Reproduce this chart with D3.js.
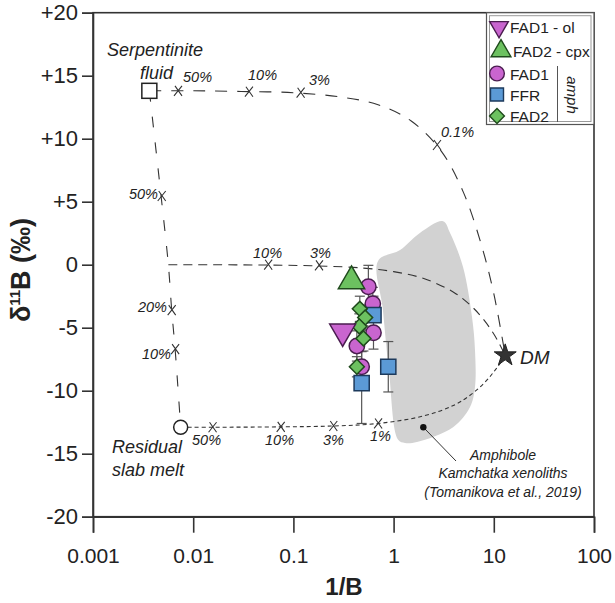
<!DOCTYPE html>
<html><head><meta charset="utf-8">
<script src="https://cdn.jsdelivr.net/npm/d3@7"></script>
<style>
body{margin:0;background:#fff;}
svg{display:block;font-family:Arial,"Liberation Sans",sans-serif;}
</style></head>
<body>
<svg id="chart" width="615" height="603"></svg>
<script>
// ---------- DATA ----------
const xTicks = [0.001, 0.01, 0.1, 1, 10, 100];
const xTickLabels = ["0.001", "0.01", "0.1", "1", "10", "100"];
const yTicks = [20, 15, 10, 5, 0, -5, -10, -15, -20];
const yTickLabels = ["+20", "+15", "+10", "+5", "0", "-5", "-10", "-15", "-20"];

// FAD1 amph (circles)
const fad1X = [0.56, 0.62, 0.63, 0.43, 0.48];
const fad1Y = [-1.75, -3.1, -5.4, -6.45, -8.1];
const fad1Err = [1.7, 1.3, 1.3, 1.2, 1.2];
// FFR amph (squares)
const ffrX = [0.63, 0.885, 0.48];
const ffrY = [-4.0, -8.1, -9.4];
const ffrErr = [1.5, 2.0, 3.2];
// FAD2 amph (diamonds)
const fad2X = [0.46, 0.52, 0.455, 0.50, 0.43];
const fad2Y = [-3.5, -4.2, -4.9, -5.85, -8.1];
const fad2Err = [1.0, 1.0, 1.0, 1.0, 0.8];
// FAD1 - ol (down triangle)
const fad1olX = [0.31];
const fad1olY = [-5.3];
// FAD2 - cpx (up triangle)
const fad2cpxX = [0.38];
const fad2cpxY = [-1.3];

// End members
const fluidPt = [0.00365, 13.8];
const meltPt = [0.0075, -12.9];
const dmPt = [13, -7.2];

// Mixing curves
const mixFluidDMX = [0.00365, 0.01, 0.03, 0.1, 0.3, 0.7, 1.5, 3, 5, 7.5, 10, 13];
const mixFluidDMY = [13.8, 13.8, 13.75, 13.65, 13.3, 12.7, 11.4, 9.0, 5.7, 1.6, -2.3, -7.2];
const mixFluidMeltX = [0.00365, 0.00478, 0.00565, 0.0061, 0.0066, 0.0075];
const mixFluidMeltY = [13.8, 5.45, 0, -3.6, -6.7, -12.9];
const mixMidDMX = [0.00565, 0.01, 0.056, 0.18, 0.5, 1, 2, 4, 6, 8, 10, 11.5, 13];
const mixMidDMY = [0, 0, -0.03, -0.1, -0.27, -0.55, -1.1, -2.2, -3.3, -4.4, -5.5, -6.35, -7.2];
const mixMeltDMX = [0.0075, 0.0156, 0.0747, 0.25, 0.7, 2, 4, 6, 8, 10, 11.5, 13];
const mixMeltDMY = [-12.9, -12.9, -12.87, -12.8, -12.6, -12.0, -11.15, -10.27, -9.4, -8.5, -7.85, -7.2];

// Tick marks (x) on mixing curves
const markX = [0.00705, 0.036, 0.118, 2.71, 0.00485, 0.0061, 0.0066, 0.056, 0.18, 0.0156, 0.0747, 0.25, 0.70];
const markY = [13.8, 13.73, 13.65, 9.5, 5.45, -3.6, -6.7, 0, -0.05, -12.9, -12.87, -12.8, -12.6];

// Amphibole Kamchatka xenoliths field
const fieldX = [0.70, 1.16, 1.83, 3.11, 3.66, 4.93, 6.06, 6.49, 6.49, 5.79, 3.92, 1.71, 1.30, 1.11, 0.90, 0.78];
const fieldY = [0.3, 1.17, 2.52, 3.45, 2.52, -0.18, -4.15, -6.77, -9.71, -11.3, -12.9, -14.07, -14.15, -13.9, -8.5, -3.5];
const fieldDot = [1.98, -12.9];

// ---------- DRAW ----------
const svg = d3.select("#chart");
const L = 93, R = 594, T = 12.7, B = 516.7;
const x = d3.scaleLog().domain([0.001, 100]).range([L, R]);
const y = d3.scaleLinear().domain([-20, 20]).range([B, T]);

const purple = "#c965cf", purpleS = "#4a1d4f";
const green = "#6cc160", greenS = "#1f4a1c";
const blue = "#5b9ad6", blueS = "#1d3a5c";

// field
svg.append("path")
  .datum(d3.zip(fieldX, fieldY))
  .attr("d", d3.line().x(d => x(d[0])).y(d => y(d[1])).curve(d3.curveCatmullRomClosed.alpha(0.5)))
  .attr("fill", "#d2d2d2").attr("stroke", "none");

// frame
svg.append("rect").attr("x", L).attr("y", T).attr("width", R - L).attr("height", B - T)
  .attr("fill", "none").attr("stroke", "#333").attr("stroke-width", 1.6);

// axes
const yAxis = d3.axisLeft(y).tickValues(yTicks).tickSize(11).tickPadding(4)
  .tickFormat((d, i) => yTickLabels[i]);
const gy = svg.append("g").attr("transform", `translate(${L},0)`).call(yAxis);
gy.select(".domain").attr("stroke", "#333").attr("stroke-width", 1.6);
gy.selectAll(".tick line").attr("stroke", "#333").attr("stroke-width", 1.6);
gy.selectAll(".tick text").attr("font-size", 22).attr("fill", "#222").attr("font-family", "Arial,'Liberation Sans',sans-serif");

const xAxis = d3.axisBottom(x).tickValues(xTicks).tickSize(16).tickPadding(15)
  .tickFormat((d, i) => xTickLabels[i]);
const gx = svg.append("g").attr("transform", `translate(0,${B})`).call(xAxis);
gx.select(".domain").attr("stroke", "#333").attr("stroke-width", 1.6);
gx.selectAll(".tick line").attr("stroke", "#333").attr("stroke-width", 1.6);
gx.selectAll(".tick text").attr("font-size", 21).attr("fill", "#222").attr("font-family", "Arial,'Liberation Sans',sans-serif");

// axis titles
svg.append("text").attr("x", 344).attr("y", 595).attr("text-anchor", "middle")
  .attr("font-size", 24).attr("font-weight", "bold").attr("fill", "#222").text("1/B");
const yl = svg.append("text").attr("transform", "translate(30,270) rotate(-90)")
  .attr("text-anchor", "middle").attr("font-size", 27).attr("font-weight", "bold").attr("fill", "#222");
yl.append("tspan").text("δ");
yl.append("tspan").attr("font-size", 15).attr("dy", -10).text("11");
yl.append("tspan").attr("dy", 10).text("B (‰)");

// mixing curves
const lineGen = d3.line().x(d => x(d[0])).y(d => y(d[1])).curve(d3.curveCatmullRom.alpha(0.5));
const curves = [
  [mixFluidDMX, mixFluidDMY, "12,10", 1.1],
  [mixFluidMeltX, mixFluidMeltY, "11,15", 1.1],
  [mixMidDMX, mixMidDMY, "9,6", 1.1],
  [mixMeltDMX, mixMeltDMY, "4,3", 1.1]
];
curves.forEach(c => {
  svg.append("path").datum(d3.zip(c[0], c[1])).attr("d", lineGen)
    .attr("fill", "none").attr("stroke", "#333").attr("stroke-width", c[3]).attr("stroke-dasharray", c[2]);
});

// x marks
svg.append("g").selectAll("path").data(d3.zip(markX, markY)).join("path")
  .attr("transform", d => `translate(${x(d[0])},${y(d[1])})`)
  .attr("d", "M-3,-5 L4,5 M4,-5 L-4,5")
  .attr("stroke", "#333").attr("stroke-width", 1.1).attr("fill", "none");

// annotations
const ann = svg.append("g").attr("font-style", "italic").attr("fill", "#222");
const pctLabels = [
  ["50%", 183, 82, "start"], ["10%", 248, 80, "start"], ["3%", 309, 85, "start"], ["0.1%", 441, 137, "start"],
  ["50%", 158, 199, "end"], ["20%", 167, 312, "end"], ["10%", 171, 359, "end"],
  ["10%", 253, 258, "start"], ["3%", 310, 258, "start"],
  ["50%", 192, 445, "start"], ["10%", 265, 445, "start"], ["3%", 323, 445, "start"], ["1%", 370, 441, "start"]
];
pctLabels.forEach(p => ann.append("text").attr("x", p[1]).attr("y", p[2]).attr("text-anchor", p[3])
  .attr("font-size", 14.5).text(p[0]));
ann.append("text").attr("x", 107).attr("y", 56).attr("font-size", 18).text("Serpentinite");
ann.append("text").attr("x", 140).attr("y", 79).attr("font-size", 18).text("fluid");
ann.append("text").attr("x", 112).attr("y", 453).attr("font-size", 18).text("Residual");
ann.append("text").attr("x", 112).attr("y", 476).attr("font-size", 18).text("slab melt");
ann.append("text").attr("x", 520).attr("y", 364).attr("font-size", 19).text("DM");
[["Amphibole", 460], ["Kamchatka xenoliths", 478], ["(Tomanikova et al., 2019)", 497]].forEach(t =>
  ann.append("text").attr("x", 503).attr("y", t[1]).attr("text-anchor", "middle").attr("font-size", 14).text(t[0]));

// leader
svg.append("line").attr("x1", x(fieldDot[0])).attr("y1", y(fieldDot[1])).attr("x2", 456).attr("y2", 461)
  .attr("stroke", "#333").attr("stroke-width", 1);
svg.append("circle").attr("cx", x(fieldDot[0])).attr("cy", y(fieldDot[1])).attr("r", 3.2).attr("fill", "#111");

// end members
const sqSide = 15;
svg.append("rect").attr("x", x(fluidPt[0]) - sqSide / 2).attr("y", y(fluidPt[1]) - sqSide / 2)
  .attr("width", sqSide).attr("height", sqSide).attr("fill", "#fff").attr("stroke", "#222").attr("stroke-width", 1.5);
svg.append("circle").attr("cx", x(meltPt[0])).attr("cy", y(meltPt[1])).attr("r", 7)
  .attr("fill", "#fff").attr("stroke", "#222").attr("stroke-width", 1.5);
svg.append("path").attr("transform", `translate(${x(dmPt[0])},${y(dmPt[1])})`)
  .attr("d", d3.symbol(d3.symbolStar, 150)()).attr("fill", "#333").attr("stroke", "#222");

// error bars
const errG = svg.append("g").attr("stroke", "#555").attr("stroke-width", 1.2);
function errBars(xs, ys, es) {
  xs.forEach((xv, i) => {
    const cx = x(xv), y1 = y(ys[i] + es[i]), y2 = y(ys[i] - es[i]);
    errG.append("line").attr("x1", cx).attr("x2", cx).attr("y1", y1).attr("y2", y2);
    errG.append("line").attr("x1", cx - 5).attr("x2", cx + 5).attr("y1", y1).attr("y2", y1);
    errG.append("line").attr("x1", cx - 5).attr("x2", cx + 5).attr("y1", y2).attr("y2", y2);
  });
}
errBars(fad1X, fad1Y, fad1Err);
errBars(ffrX, ffrY, ffrErr);
errBars(fad2X, fad2Y, fad2Err);

// markers
function markers(xs, ys, type, size, fill, stroke, rot) {
  svg.append("g").selectAll("path").data(d3.zip(xs, ys)).join("path")
    .attr("transform", d => `translate(${x(d[0])},${y(d[1])}) rotate(${rot})`)
    .attr("d", d3.symbol(type, size)())
    .attr("fill", fill).attr("stroke", stroke).attr("stroke-width", 1.5);
}
markers(fad1X, fad1Y, d3.symbolCircle, 185, purple, purpleS, 0);
markers(ffrX, ffrY, d3.symbolSquare, 230, blue, blueS, 0);
markers(fad2X, fad2Y, d3.symbolSquare, 112, green, greenS, 45);
markers(fad1olX, fad1olY, d3.symbolTriangle, 290, purple, purpleS, 180);
markers(fad2cpxX, fad2cpxY, d3.symbolTriangle, 300, green, greenS, 0);

// legend
const lg = svg.append("g");
lg.append("rect").attr("x", 486.5).attr("y", T).attr("width", R - 486.5).attr("height", 124.5 - T)
  .attr("fill", "#fff").attr("stroke", "#555").attr("stroke-width", 1.2);
lg.append("rect").attr("x", 489.5).attr("y", T + 3).attr("width", R - 489.5 - 3).attr("height", 124.5 - T - 6)
  .attr("fill", "none").attr("stroke", "#999").attr("stroke-width", 1);
const legendItems = [
  [d3.symbolTriangle, 150, purple, purpleS, 180, 499, 27, "FAD1 - ol", 510, 33],
  [d3.symbolTriangle, 170, green, greenS, 0, 501, 51, "FAD2 - cpx", 513, 56.5],
  [d3.symbolCircle, 170, purple, purpleS, 0, 497, 73.5, "FAD1", 510, 80],
  [d3.symbolSquare, 169, blue, blueS, 0, 497, 94.5, "FFR", 510, 101],
  [d3.symbolSquare, 110, green, greenS, 45, 497, 116, "FAD2", 510, 121.5]
];
legendItems.forEach(it => {
  lg.append("path").attr("transform", `translate(${it[5]},${it[6]}) rotate(${it[4]})`)
    .attr("d", d3.symbol(it[0], it[1])()).attr("fill", it[2]).attr("stroke", it[3]).attr("stroke-width", 1.4);
  lg.append("text").attr("x", it[8]).attr("y", it[9]).attr("font-size", 15.5).attr("fill", "#222").text(it[7]);
});
lg.append("line").attr("x1", 557.5).attr("x2", 557.5).attr("y1", 66).attr("y2", 122)
  .attr("stroke", "#555").attr("stroke-width", 1);
lg.append("text").attr("transform", "translate(567,95) rotate(90)").attr("text-anchor", "middle")
  .attr("font-size", 15).attr("font-style", "italic").attr("fill", "#222").text("amph");
</script>
</body></html>
